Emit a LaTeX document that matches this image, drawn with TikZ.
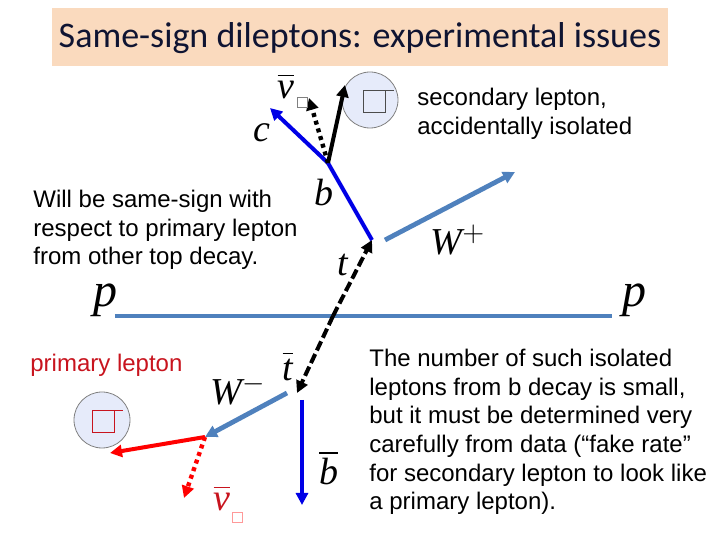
\documentclass[tikz,border=0pt]{standalone}
\usepackage{amssymb}
\usepackage{fontspec}
\setmainfont{Liberation Sans}
\newfontfamily\titlefont{Carlito}
\newfontfamily\mfont{Liberation Serif}
\usetikzlibrary{arrows.meta}
\definecolor{peach}{RGB}{250,218,190}
\definecolor{steel}{RGB}{79,129,189}
\definecolor{pblue}{RGB}{0,0,230}
\definecolor{lav}{RGB}{230,235,250}
\definecolor{tnavy}{RGB}{15,20,50}
\definecolor{dred}{RGB}{200,20,30}
\tikzset{
 ar/.style={line width=2pt,-{Triangle[length=6pt,width=6pt]}},
 lab/.style={font=\mfont\itshape\fontsize{19}{19}\selectfont,inner sep=0pt},
 txt/.style={font=\fontsize{12}{14.3}\selectfont,align=left,anchor=north west,inner sep=0pt},
 iso/.style={circle,draw=gray,fill=lav,minimum size=28pt,inner sep=0pt,thin},
 sq/.style={draw,minimum size=#1,inner sep=0pt,line width=0.5pt},
}
\begin{document}
\begin{tikzpicture}[x=0.5pt,y=-0.5pt]
\useasboundingbox (0,0) rectangle (720,540);
\node[fill=peach,minimum width=308pt,minimum height=29pt,anchor=north west,inner sep=0pt] (title) at (52,8) {};
\node[font=\titlefont\fontsize{18}{18}\selectfont,text=tnavy] at (360,38) {Same-sign dileptons: experimental issues};
% beam
\coordinate (pl) at (115,316); \coordinate (pr) at (612,316);
\draw[steel,line width=1.6pt] (pl) -- (pr);
\node[lab,font=\mfont\itshape\fontsize{24}{24}\selectfont] (p1) at (105,300) {p};
\node[lab,font=\mfont\itshape\fontsize{24}{24}\selectfont] (p2) at (635,300) {p};
% tops
\coordinate (o) at (333,316);
\coordinate (t) at (372,240);
\coordinate (tb) at (297,393);
\draw[ar,dash pattern=on 5pt off 2pt,black] (o) -- (t);
\draw[ar,dash pattern=on 5pt off 2pt,black] (o) -- (tb);
% top decay
\coordinate (b) at (328,163);
\coordinate (c) at (270,108);
\coordinate (nu) at (309,98);
\coordinate (l1) at (345,85);
\coordinate (wp) at (515,172);
\coordinate (wps) at (385,240);
\node[iso] (is1) at (370,100) {};
\node[sq=11pt,draw=black!70] (s1) at (375,102) {};
\draw[black!70] (s1.north east) -- ++(8,0);
\draw[pblue,line width=2pt] (t) -- (b);
\draw[ar,pblue] (b) -- (c);
\draw[ar,black] (b) -- (l1);
\draw[ar,black,dotted,line width=2.2pt] (b) -- (nu);
\draw[ar,steel,line width=2.4pt] (wps) -- (wp);
\node[lab] (nul) at (286,86) {$\overline{\mbox{\mfont\itshape v}}$};
\node[sq=5pt,draw=gray] (nb) at (303,103) {};
\node[lab] (cl) at (262,133) {c};
\node[lab] (bl) at (324,193) {b};
\node[lab] (Wpl) at (458,240) {W$^{+}$};
\node[lab] (tl) at (343,265) {t};
% antitop decay
\coordinate (wms) at (287,393);
\coordinate (wm) at (205,437);
\coordinate (bbs) at (302,400);
\coordinate (bbe) at (302,505);
\coordinate (l2) at (110,453);
\coordinate (nu2) at (184,498);
\node[iso] (is2) at (102,420) {};
\node[sq=11pt,draw=dred] (s2) at (104,422) {};
\draw[dred] (s2.north east) -- ++(8,0);
\draw[ar,steel,line width=2.4pt] (wms) -- (wm);
\draw[ar,pblue] (bbs) -- (bbe);
\draw[ar,red] (wm) -- (l2);
\draw[ar,red,dotted,line width=2.2pt] (wm) -- (nu2);
\node[lab] (Wml) at (238,390) {W$^{-}$};
\node[lab] (tbl) at (288,366) {$\overline{\mbox{\mfont\itshape t}}$};
\node[lab] (bbl) at (329,468) {$\overline{\mbox{\mfont\itshape b}}$};
\node[lab,text=dred] (nu2l) at (222,498) {$\overline{\mbox{\mfont\itshape v}}$};
\node[sq=5pt,draw=red!40] (nb2) at (238,518) {};
% texts
\node[txt] (t1) at (417,88) {secondary lepton,\\accidentally isolated};
\node[txt] (t2) at (33,190) {Will be same-sign with\\respect to primary lepton\\from other top decay.};
\node[txt,text=dred] (t3) at (30,354) {primary lepton};
\node[txt] (t4) at (369,349) {The number of such isolated\\leptons from b decay is small,\\but it must be determined very\\carefully from data (“fake rate”\\for secondary lepton to look like\\a primary lepton).};
\end{tikzpicture}
\end{document}
